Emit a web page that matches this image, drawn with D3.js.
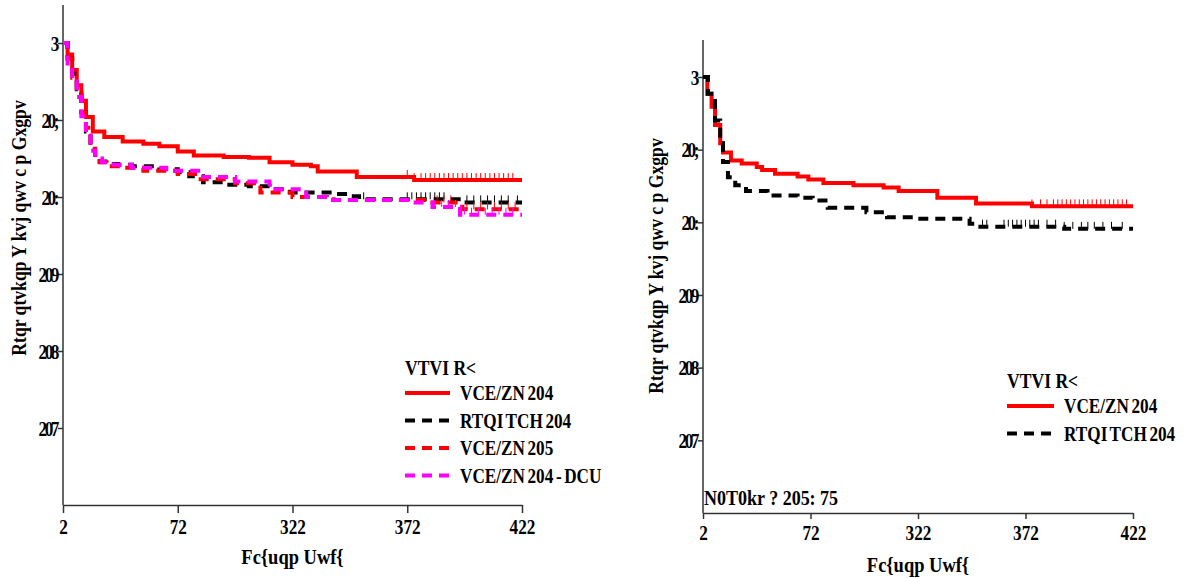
<!DOCTYPE html>
<html>
<head>
<meta charset="utf-8">
<script src="https://cdn.jsdelivr.net/npm/d3@7"></script>
<style>
  body { margin: 0; background: #fff; }
  svg text { font-family: "Liberation Serif", "Times New Roman", "DejaVu Serif", serif !important; font-weight: bold; fill: #000; }
</style>
</head>
<body>
<div id="container"></div>
<script>
// tick labels as they appear in the picture
let xTicks = [0, 50, 100, 150, 200]
let xTickLabels = ['2', '72', '322', '372', '422']
let yTicks = [1, 0.9, 0.8, 0.7, 0.6, 0.5]
let yTickLabels = ['3', '20;', '20:', '209', '208', '207']
let xTitle = 'Fc{uqp Uwf{'
let yTitle = 'Rtqr qtvkqp Y kvj qwv c p Gxgpv'
let legendTitle = 'VTVI R<'

// left panel series (days, proportion)
let leftNames = ['VCE/ZN 204', 'RTQI TCH 204', 'VCE/ZN 205', 'VCE/ZN 204 - DCU']
let l1Days = [0, 2, 4, 6, 8, 10, 13, 18, 26, 35, 42, 50, 57, 70, 81, 90, 100, 108, 111, 128, 153, 200]
let l1Surv = [1, 0.985, 0.965, 0.945, 0.925, 0.904, 0.885, 0.878, 0.872, 0.869, 0.866, 0.859, 0.854, 0.852, 0.851, 0.845, 0.842, 0.84, 0.833, 0.826, 0.822, 0.822]
let l1Cens = [150, 153, 156, 158, 160, 162, 164, 166, 168, 170, 172, 174, 176, 178, 180, 182, 184, 186, 188, 190, 192, 194, 196]
let l2Days = [0, 2, 4, 6, 8, 10, 12, 14, 16, 20, 24, 30, 42, 50, 55, 61, 70, 81, 90, 99, 118, 124, 129, 174, 200]
let l2Surv = [1, 0.98, 0.96, 0.94, 0.91, 0.885, 0.862, 0.852, 0.846, 0.843, 0.842, 0.84, 0.836, 0.832, 0.827, 0.819, 0.816, 0.814, 0.81, 0.806, 0.804, 0.801, 0.797, 0.793, 0.793]
let l2Cens = [131, 150, 152, 154, 156, 158, 160, 162, 164, 166, 176, 179, 182, 185, 188, 191, 194, 198]
let l3Days = [0, 2, 4, 6, 8, 10, 12, 14, 16, 19, 25, 35, 50, 60, 75, 86, 100, 118, 161, 174, 200]
let l3Surv = [1, 0.98, 0.955, 0.935, 0.91, 0.89, 0.87, 0.855, 0.845, 0.84, 0.838, 0.834, 0.83, 0.823, 0.818, 0.806, 0.8, 0.796, 0.793, 0.784, 0.784]
let l3Cens = [163, 166, 169, 176, 179, 182, 185, 188, 191, 194, 197]
let l4Days = [0, 2, 4, 6, 8, 10, 12, 14, 17, 22, 30, 45, 60, 75, 90, 106, 115, 151, 161, 173, 200]
let l4Surv = [1, 0.97, 0.95, 0.93, 0.905, 0.88, 0.86, 0.85, 0.845, 0.842, 0.838, 0.834, 0.826, 0.82, 0.81, 0.8, 0.796, 0.793, 0.787, 0.777, 0.777]
let l4Cens = [162, 165, 168, 171, 175, 178, 181, 184, 187, 190, 193, 196]

// right panel series
let rightNames = ['VCE/ZN 204', 'RTQI TCH 204']
let r1Days = [0, 2, 4, 5.6, 8, 9.3, 13, 18, 25, 27.5, 33.5, 44, 49, 56, 70, 84, 91, 109, 127, 153, 200]
let r1Surv = [1, 0.977, 0.959, 0.934, 0.909, 0.896, 0.885, 0.881, 0.876, 0.872, 0.867, 0.863, 0.859, 0.854, 0.851, 0.848, 0.843, 0.834, 0.826, 0.822, 0.822]
let r1Cens = [153, 157, 160, 163, 165, 167, 169, 171, 173, 175, 177, 179, 181, 183, 185, 187, 189, 191, 193, 195, 197]
let r2Days = [0, 2.3, 5.6, 8, 9.3, 11.6, 15, 20, 30, 44, 51, 58, 76, 85.6, 99.5, 124, 129, 168, 200]
let r2Surv = [1, 0.977, 0.94, 0.909, 0.883, 0.862, 0.851, 0.843, 0.837, 0.834, 0.83, 0.82, 0.814, 0.807, 0.805, 0.798, 0.794, 0.791, 0.791]
let r2Cens = [130, 132, 140, 142, 144, 146, 148, 150, 152, 154, 156, 160, 164, 168, 172, 176, 179, 182, 186, 190, 195]
let rightNote = 'N0T0kr ? 205: 75'

let svg = d3.select('#container')
  .append('svg')
  .attr('width', 1185)
  .attr('height', 578)

function zip (days, surv) {
  return days.map((d, i) => ({ day: d, p: surv[i] }))
}

// narrow bold serif text, placed at (x, y)
function label (parent, x, y, str, size, sq, anchor, rot) {
  return parent.append('text')
    .text(str)
    .attr('transform', 'translate(' + x + ', ' + y + ')' + (rot ? ' rotate(-90)' : '') + ' scale(' + sq + ', 1)')
    .attr('text-anchor', anchor || 'start')
    .attr('font-size', size)
}

function drawPanel (cfg) {
  let xScale = d3.scaleLinear().domain([0, 200]).range([cfg.left, cfg.right])
  let yScale = d3.scaleLinear().domain([0.4, 1]).range([cfg.bottom, cfg.y1])

  let g = svg.append('g')

  // axes
  let xAxis = d3.axisBottom(xScale).tickValues(xTicks)
    .tickFormat((d, i) => xTickLabels[i]).tickSize(cfg.xTickLen).tickSizeOuter(0)
  let yAxis = d3.axisLeft(yScale).tickValues(yTicks)
    .tickFormat((d, i) => yTickLabels[i]).tickSize(5).tickSizeOuter(0)

  let gx = g.append('g')
    .attr('transform', 'translate(0, ' + cfg.bottom + ')')
    .call(xAxis)
  let gy = g.append('g')
    .attr('transform', 'translate(' + cfg.left + ', 0)')
    .call(yAxis)
  gy.select('.domain').attr('d', 'M0,' + cfg.top + 'V' + cfg.bottom)
  g.selectAll('.domain, .tick line').attr('stroke', '#333').attr('stroke-width', 1.5)
  gx.selectAll('text').attr('font-size', 21).attr('y', 0).attr('dy', 0)
    .attr('transform', 'translate(0, ' + (cfg.xTickLen + 21) + ') scale(0.82, 1)')
  gy.selectAll('text').attr('font-size', 21).attr('x', 0).attr('dy', 0).attr('letter-spacing', -3)
    .attr('transform', 'translate(-6, 7) scale(0.82, 1)')

  label(g, (cfg.left + cfg.right) / 2, cfg.bottom + 59, xTitle, 21, 0.88, 'middle')
  label(g, cfg.yTitleX, cfg.yTitleY, yTitle, 21, 0.84, 'middle', true)

  let line = d3.line()
    .x(d => xScale(d.day))
    .y(d => yScale(d.p))
    .curve(d3.curveStepAfter)

  cfg.series.forEach(s => {
    let pts = zip(s.days, s.surv)
    g.append('path')
      .attr('d', line(pts))
      .attr('fill', 'none')
      .attr('stroke', s.color)
      .attr('stroke-width', 4)
      .attr('stroke-dasharray', s.dash ? '10,7' : null)
    // censor marks
    let stepVal = d3.scaleThreshold().domain(s.days.slice(1)).range(s.surv)
    g.selectAll(null)
      .data(s.cens)
      .enter()
      .append('line')
      .attr('x1', d => xScale(d)).attr('x2', d => xScale(d))
      .attr('y1', d => yScale(stepVal(d)) - 7)
      .attr('y2', d => yScale(stepVal(d)))
      .attr('stroke', s.color)
      .attr('stroke-width', 1)
  })

  // legend
  let lg = g.append('g').attr('transform', 'translate(' + cfg.legX + ', ' + cfg.legY + ')')
  label(lg, 0, 0, legendTitle, 20, 0.88)
  cfg.series.forEach((s, i) => {
    let yy = 18 + i * 27.5
    lg.append('line')
      .attr('x1', 0).attr('x2', cfg.legLine)
      .attr('y1', yy).attr('y2', yy)
      .attr('stroke', s.color)
      .attr('stroke-width', 4)
      .attr('stroke-dasharray', s.dash ? '10,7' : null)
    label(lg, cfg.legLine + 10, yy + 7, s.name, 20, 0.86)
      .attr('word-spacing', -2)
  })

  if (cfg.note) {
    label(g, cfg.left + 1, cfg.bottom - 8, cfg.note, 20, 0.9)
  }
}

drawPanel({
  left: 63, right: 522, bottom: 505, y1: 43, top: 5, xTickLen: 8,
  yTitleX: 26, yTitleY: 228,
  legX: 405, legY: 375, legLine: 45,
  series: [
    { name: leftNames[0], days: l1Days, surv: l1Surv, cens: l1Cens, color: '#ff0000', dash: false },
    { name: leftNames[1], days: l2Days, surv: l2Surv, cens: l2Cens, color: '#000000', dash: true },
    { name: leftNames[2], days: l3Days, surv: l3Surv, cens: l3Cens, color: '#ff0000', dash: true },
    { name: leftNames[3], days: l4Days, surv: l4Surv, cens: l4Cens, color: '#ff00ff', dash: true }
  ]
})

drawPanel({
  left: 703, right: 1133, bottom: 513, y1: 77, top: 40, xTickLen: 6,
  yTitleX: 663, yTitleY: 266,
  legX: 1007, legY: 388, legLine: 47,
  note: rightNote,
  series: [
    { name: rightNames[0], days: r1Days, surv: r1Surv, cens: r1Cens, color: '#ff0000', dash: false },
    { name: rightNames[1], days: r2Days, surv: r2Surv, cens: r2Cens, color: '#000000', dash: true }
  ]
})
</script>
</body>
</html>
